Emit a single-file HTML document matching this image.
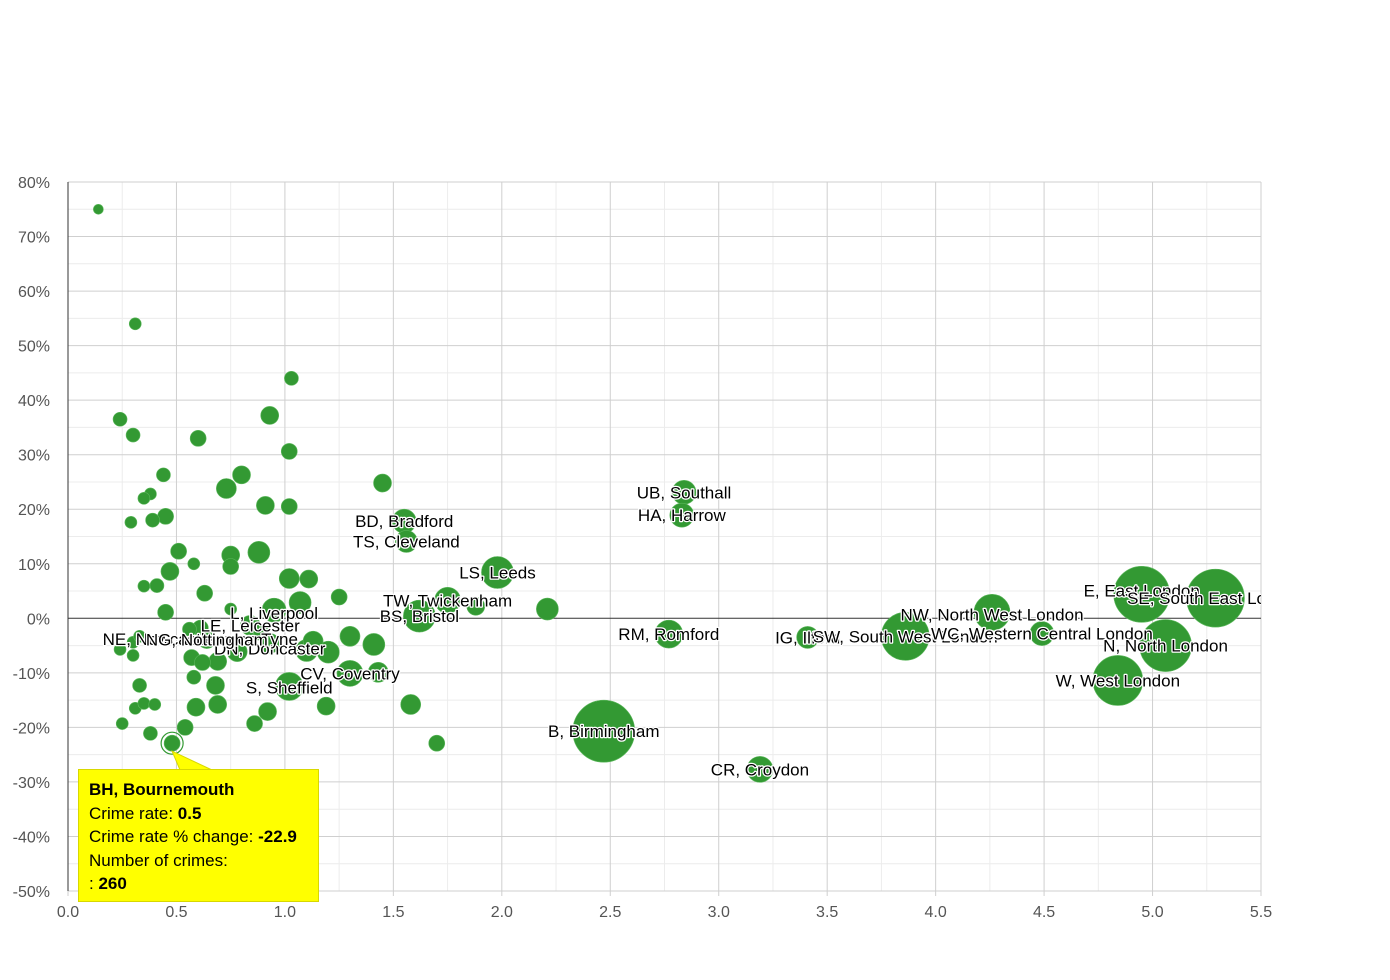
<!DOCTYPE html>
<html><head><meta charset="utf-8"><style>
body{margin:0;background:#fff;width:1390px;height:980px;overflow:hidden;font-family:"Liberation Sans",Arial,sans-serif}
svg text{font-family:"Liberation Sans",Arial,sans-serif}
.tip{position:absolute;left:78px;top:769px;width:241px;height:133px;background:#ffff00;border:1px solid #d8d800;box-sizing:border-box;padding:8px 10px;font-size:17px;line-height:23.5px;color:#000}
</style></head><body>
<svg id="chart" width="1390" height="980" style="position:absolute;left:0;top:0"></svg>
<div class="tip"><b>BH, Bournemouth</b><br>Crime rate: <b>0.5</b><br>Crime rate % change: <b>-22.9</b><br>Number of crimes:<br>: <b>260</b></div>
<script>
const xTicks=[0,0.5,1,1.5,2,2.5,3,3.5,4,4.5,5,5.5];
const xTickLabels=["0.0","0.5","1.0","1.5","2.0","2.5","3.0","3.5","4.0","4.5","5.0","5.5"];
const yTicks=[80,70,60,50,40,30,20,10,0,-10,-20,-30,-40,-50];
const yTickLabels=["80%","70%","60%","50%","40%","30%","20%","10%","0%","-10%","-20%","-30%","-40%","-50%"];
const rates=[0.14,0.31,1.03,0.24,0.93,0.30,0.60,1.02,0.44,0.80,1.45,0.38,0.35,0.73,0.91,1.02,0.45,0.29,0.39,1.55,1.56,0.51,0.75,0.88,0.58,0.75,0.47,1.98,1.02,1.11,0.35,0.41,0.63,1.25,1.75,1.88,2.21,0.45,0.75,1.07,1.62,0.95,2.84,2.83,2.77,3.41,3.86,4.26,4.49,4.95,5.29,5.06,4.84,2.47,3.19,1.70,1.58,1.19,0.92,0.86,0.54,0.38,0.25,0.48,0.31,0.35,0.40,0.59,0.69,0.33,0.68,0.58,1.02,1.30,1.43,0.57,0.69,0.62,0.78,0.93,1.10,1.20,1.41,1.30,1.13,0.24,0.30,0.30,0.33,0.61,0.56,0.64,0.84,0.89,0.88];
const changes=[75,54,44,36.5,37.2,33.6,33,30.6,26.3,26.3,24.8,22.8,22,23.8,20.7,20.5,18.7,17.6,18,17.8,14.1,12.3,11.6,12.1,10,9.5,8.6,8.4,7.3,7.2,5.9,6,4.6,3.9,3.3,2.2,1.7,1.1,1.7,2.9,0.4,1.5,23.1,18.9,-2.9,-3.5,-3.3,1.1,-2.8,4.4,3.7,-5,-11.4,-20.7,-27.7,-22.9,-15.8,-16.1,-17.1,-19.3,-20,-21.1,-19.3,-22.9,-16.5,-15.6,-15.8,-16.3,-15.8,-12.3,-12.3,-10.8,-12.5,-10.1,-9.9,-7.2,-7.9,-8.1,-6.1,-4.6,-5.9,-6.2,-4.8,-3.3,-4.2,-5.7,-6.8,-4.4,-3.3,-1.8,-2,-3.9,-1.3,-2.6,-2.2];
const sizes=[5,6,7,7,9,7,8,8,7,9,9,6,6,10,9,8,8,6,7,12,11,8,9,11,6,8,9,16,10,9,6,7,8,8,13,9,11,8,6,11,16,12,12,12,14,11,24,18,12,28,29,26,25,31,13,8,10,9,9,8,8,7,6,8,6,6,6,9,9,7,9,7,14,13,10,8,9,8,10,10,11,11,11,10,10,6,6,6,6,8,7,9,10,8,6];
const labels={19:"BD, Bradford",20:"TS, Cleveland",27:"LS, Leeds",34:"TW, Twickenham",40:"BS, Bristol",41:"L, Liverpool",42:"UB, Southall",43:"HA, Harrow",44:"RM, Romford",45:"IG, Ilford",46:"SW, South West London",47:"NW, North West London",48:"WC, Western Central London",49:"E, East London",50:"SE, South East London",51:"N, North London",52:"W, West London",53:"B, Birmingham",54:"CR, Croydon",72:"S, Sheffield",73:"CV, Coventry",79:"DN, Doncaster",89:"NE, Newcastle upon Tyne",91:"NG, Nottingham",92:"LE, Leicester"};
const labelDy={49:-4,41:3,47:2,72:1,79:5,89:11,92:0,91:0};
const X0=68,X1=1261,Y0=182,Y1=891;
const xs=v=>X0+(v/5.5)*(X1-X0);
const ys=v=>Y0+(80-v)/130*(Y1-Y0);
const svg=document.getElementById('chart');
const NS='http://www.w3.org/2000/svg';
function el(t,a,p){const e=document.createElementNS(NS,t);for(const k in a)e.setAttribute(k,a[k]);(p||svg).appendChild(e);return e;}
const defs=el('defs',{});const cp=el('clipPath',{id:'pc'},defs);el('rect',{x:X0,y:Y0,width:X1-X0,height:Y1-Y0},cp);
for(let v=0.25;v<5.5;v+=0.5){const l=el('line',{x1:xs(v),x2:xs(v),y1:Y0,y2:Y1,stroke:'#ececec'});}
for(let v=75;v>-50;v-=10){const l=el('line',{x1:X0,x2:X1,y1:ys(v),y2:ys(v),stroke:'#ececec'});}
xTicks.forEach((v,i)=>{const l=el('line',{x1:xs(v),x2:xs(v),y1:Y0,y2:Y1+5,stroke:'#cfcfcf'});
const t=el('text',{x:xs(v),y:917,'text-anchor':'middle','font-size':16,fill:'#555'});t.textContent=xTickLabels[i];});
yTicks.forEach((v,i)=>{const l=el('line',{x1:X0,x2:X1,y1:ys(v),y2:ys(v),stroke:v===0?'#333':'#cfcfcf'});
const t=el('text',{x:50,y:ys(v)+6,'text-anchor':'end','font-size':16,fill:'#555'});t.textContent=yTickLabels[i];});
const ax=el('line',{x1:X0,x2:X0,y1:Y0,y2:Y1,stroke:'#333'});
const g=el('g',{'clip-path':'url(#pc)'});
rates.forEach((r,i)=>{const c=el('circle',{cx:xs(r),cy:ys(changes[i]),r:sizes[i],fill:'#339933',stroke:'#5cb85c','stroke-width':0.6},g);

});
const lg=el('g',{'clip-path':'url(#pc)'});
for(const k in labels){const i=+k;const t=el('text',{x:xs(rates[i]),y:ys(changes[i])+6+(labelDy[i]||0),'text-anchor':'middle','font-size':17,fill:'#000',stroke:'#fff','stroke-width':2.5,'paint-order':'stroke','stroke-linejoin':'round'},lg);t.textContent=labels[k];

}
const hi=63;
const hc=el('circle',{cx:xs(rates[hi]),cy:ys(changes[hi]),r:11,fill:'none',stroke:'#339933','stroke-width':1.2});
const pt=el('polygon',{points:`${xs(rates[hi])},${ys(changes[hi])+8} 212,770 180,770`,fill:'#ffff00',stroke:'#d8d800'});
</script>
</body></html>
